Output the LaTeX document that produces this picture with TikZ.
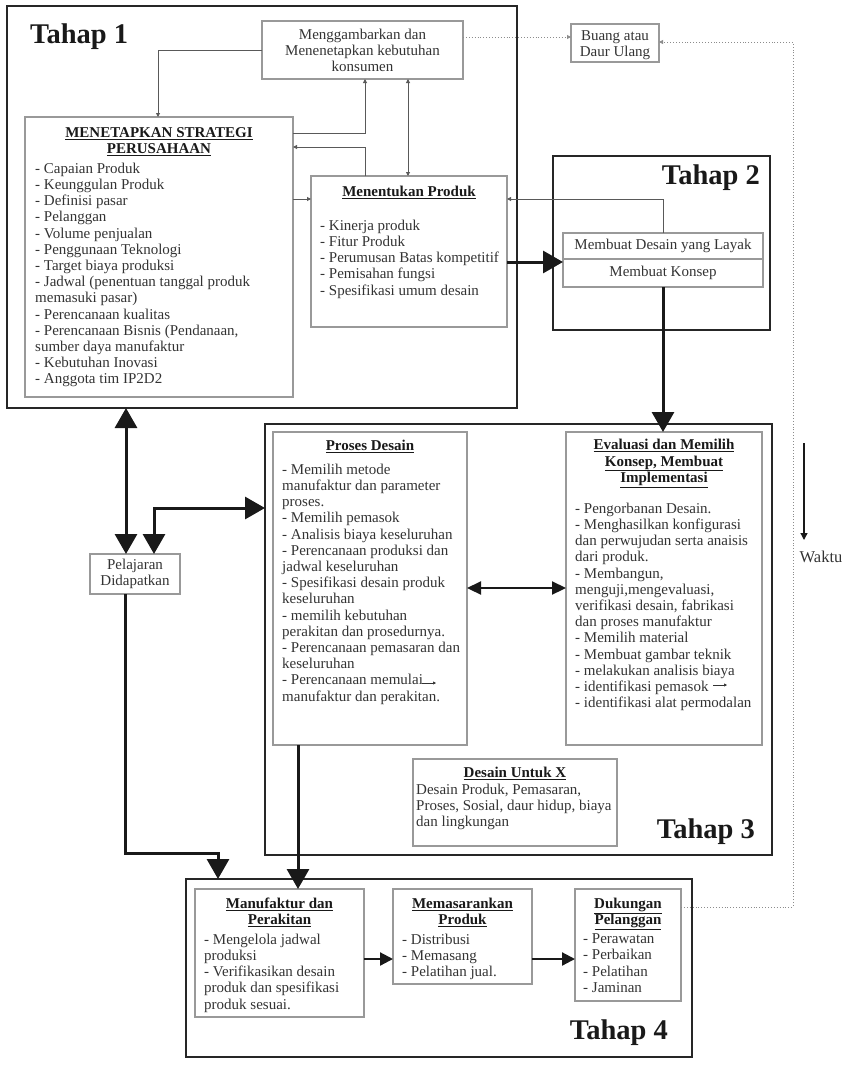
\documentclass[tikz,border=0pt]{standalone}
\usepackage{fontspec}
\setmainfont{Liberation Serif}
\usetikzlibrary{arrows.meta,calc}
\begin{document}
\begin{tikzpicture}[x=1pt,y=-1pt,
  stage/.style={draw=black!85, line width=2.6pt, inner sep=0pt, outer sep=0pt, anchor=north west},
  box/.style={draw=black!40, line width=1.1pt, inner sep=0pt, outer sep=0pt, anchor=north west,
    font=\fontsize{15}{16.2}\selectfont, text=black!80, align=center},
  txt/.style={font=\fontsize{15}{16.2}\selectfont, text=black!80, inner sep=0pt, align=left,
    anchor=north west, execute at begin node=\strut},
  ctr/.style={txt, align=center, anchor=north},
  ttl/.style={txt, font=\fontsize{15}{16.2}\selectfont\bfseries, text=black!90, align=center, anchor=north},
  stg/.style={font=\fontsize{28.5}{30}\selectfont\bfseries, text=black!90, inner sep=0pt},
  thn/.style={line width=0.9pt, draw=black!65, -{Triangle[length=4pt,width=4pt]}},
  thnd/.style={line width=0.9pt, draw=black!65, {Triangle[length=4pt,width=4pt]}-{Triangle[length=4pt,width=4pt]}},
  dotln/.style={line width=0.9pt, draw=black!45, dotted},
  thk/.style={line width=3pt, draw=black!90, -{Triangle[length=20pt,width=22pt]}},
  thkd/.style={line width=3pt, draw=black!90, {Triangle[length=20pt,width=22pt]}-{Triangle[length=20pt,width=22pt]}},
  med/.style={line width=2.2pt, draw=black!90, -{Triangle[length=13pt,width=13pt]}},
  medd/.style={line width=2.2pt, draw=black!90, {Triangle[length=14pt,width=13pt]}-{Triangle[length=14pt,width=13pt]}},
  wak/.style={line width=1.3pt, draw=black!90, -{Triangle[length=7pt,width=7pt]}},
  tiny/.style={line width=0.7pt, draw=black!80, -{Triangle[length=3pt,width=3pt]}}
]
\useasboundingbox (0,0) rectangle (854,1068);

% ---- stage frames
\node[stage, minimum width=510pt, minimum height=402pt] (t1) at (7,6) {};
\node[stage, minimum width=217pt, minimum height=174pt] (t2) at (553,156) {};
\node[stage, minimum width=507pt, minimum height=431pt] (t3) at (265,424) {};
\node[stage, minimum width=506pt, minimum height=178pt] (t4) at (186,879) {};

\node[stg, anchor=base west] (l1) at (30,43) {Tahap 1};
\node[stg, anchor=base east] (l2) at (760,184) {Tahap 2};
\node[stg, anchor=base east] (l3) at (755,838) {Tahap 3};
\node[stg, anchor=base east] (l4) at (668,1039) {Tahap 4};

% ---- boxes
\node[box, minimum width=201pt, minimum height=58pt] (mg) at (262,21) {};
\node[box, minimum width=268pt, minimum height=280pt] (st) at (25,117) {};
\node[box, minimum width=196pt, minimum height=151pt] (mp) at (311,176) {};
\node[box, minimum width=88pt, minimum height=38pt] (bu) at (571,24) {};
\node[box, minimum width=200pt, minimum height=26pt] (ly) at (563,233) {Membuat Desain yang Layak};
\node[box, minimum width=200pt, minimum height=28pt] (ko) at (563,259) {Membuat Konsep};
\node[box, minimum width=194pt, minimum height=313pt] (pd) at (273,432) {};
\node[box, minimum width=196pt, minimum height=313pt] (ev) at (566,432) {};
\node[box, minimum width=204pt, minimum height=87pt] (dx) at (413,759) {};
\node[box, minimum width=90pt, minimum height=40pt] (pl) at (90,554) {Pelajaran\\Didapatkan};
\node[box, minimum width=169pt, minimum height=128pt] (mf) at (195,889) {};
\node[box, minimum width=139pt, minimum height=95pt] (mm) at (393,889) {};
\node[box, minimum width=106pt, minimum height=112pt] (dk) at (575,889) {};

% ---- texts
\node[ctr] (mgt) at (362.5,28.5) {Menggambarkan dan\\Menenetapkan kebutuhan\\konsumen};
\node[ctr] (but) at (615,30.5) {Buang atau\\Daur Ulang};

\node[ttl] (stt) at (159,127.2) {\underline{MENETAPKAN STRATEGI}\\\underline{PERUSAHAAN}};
\node[txt] (stl) at (35,162.7) {- Capaian Produk\\- Keunggulan Produk\\- Definisi pasar\\- Pelanggan\\- Volume penjualan\\- Penggunaan Teknologi\\- Target biaya produksi\\- Jadwal (penentuan tanggal produk\\memasuki pasar)\\- Perencanaan kualitas\\- Perencanaan Bisnis (Pendanaan,\\sumber daya manufaktur\\- Kebutuhan Inovasi\\- Anggota tim IP2D2};

\node[ttl] (mpt) at (409,184.7) {\underline{Menentukan Produk}};
\node[txt] (mpl) at (320,219.7) {- Kinerja produk\\- Fitur Produk\\- Perumusan Batas kompetitif\\- Pemisahan fungsi\\- Spesifikasi umum desain};

\node[ttl] (pdt) at (370,438.7) {\underline{Proses Desain}};
\node[txt] (pdl) at (282,463.7) {- Memilih metode\\manufaktur dan parameter\\proses.\\- Memilih pemasok\\- Analisis biaya keseluruhan\\- Perencanaan produksi dan\\jadwal keseluruhan\\- Spesifikasi desain produk\\keseluruhan\\- memilih kebutuhan\\perakitan dan prosedurnya.\\- Perencanaan pemasaran dan\\keseluruhan\\- Perencanaan memulai\\manufaktur dan perakitan.};

\node[ttl] (evt) at (664,439.2) {\underline{Evaluasi dan Memilih}\\\underline{Konsep, Membuat}\\\underline{Implementasi}};
\node[txt] (evl) at (575,502.7) {- Pengorbanan Desain.\\- Menghasilkan konfigurasi\\dan perwujudan serta anaisis\\dari produk.\\- Membangun,\\menguji,mengevaluasi,\\verifikasi desain, fabrikasi\\dan proses manufaktur\\- Memilih material\\- Membuat gambar teknik\\- melakukan analisis biaya\\- identifikasi pemasok\\- identifikasi alat permodalan};

\node[ttl] (dxt) at (515,766.2) {\underline{Desain Untuk X}};
\node[txt] (dxl) at (416,783.7) {Desain Produk, Pemasaran,\\Proses, Sosial, daur hidup, biaya\\dan lingkungan};

\node[ttl] (mft) at (279.5,897.7) {\underline{Manufaktur dan}\\\underline{Perakitan}};
\node[txt] (mfl) at (204,933.7) {- Mengelola jadwal\\produksi\\- Verifikasikan desain\\produk dan spesifikasi\\produk sesuai.};
\node[ttl] (mmt) at (462.5,897.7) {\underline{Memasarankan}\\\underline{Produk}};
\node[txt] (mml) at (402,933.7) {- Distribusi\\- Memasang\\- Pelatihan jual.};
\node[ttl] (dkt) at (628,897.7) {\underline{Dukungan}\\\underline{Pelanggan}};
\node[txt] (dkl) at (583,933.7) {- Perawatan\\- Perbaikan\\- Pelatihan\\- Jaminan};

\node[txt, anchor=center, font=\fontsize{16.5}{18}\selectfont] (wk) at (821,559) {Waktu};
\coordinate (w0) at (804,443);
\coordinate (w1) at (804,540);

% ---- connectors, Tahap 1
\draw[thn] (mg.west) -| ($(st.north west)+(133,0)$);
\draw[thn] ($(st.north east)+(0,16)$) -| ($(mg.south west)+(103,0)$);
\draw[thn] ($(mp.north west)+(54,0)$) |- ($(st.north east)+(0,30)$);
\draw[thnd] ($(mg.south west)+(146,0)$) -- ($(mp.north west)+(97,0)$);
\draw[thn] ($(st.north east)+(0,82)$) -- ($(mp.north west)+(0,23)$);
\draw[thn] (ly.north) |- ($(mp.north east)+(0,23)$);

% ---- dotted recycling loop
\draw[dotln, -{Triangle[length=4pt,width=4pt]}] ($(mg.north east)+(0,16)$) -- ($(bu.north west)+(0,13)$);
\draw[dotln, -{Triangle[length=4pt,width=4pt]}] ($(dk.north east)+(0,18)$) -| ($(bu.north east)+(134,18)$) -- ($(bu.north east)+(0,18)$);

% ---- thick flow
\draw[thk] ($(mp.north east)+(0,86)$) -- ($(ko.north west)+(0,3)$);
\draw[thk] (ko.south) -- (ko.south |- ev.north);
\draw[thkd] ($(pl.north west)+(36,0)$) -- ($(t1.south west)+(119,0)$);
\draw[thkd] ($(pl.north west)+(64,0)$) |- ($(t3.north west)+(0,84)$);
\draw[thk] ($(pl.south west)+(35,0)$) |- ($(t4.north west)+(32,-26)$) -- ($(t4.north west)+(32,0)$);
\draw[thk] ($(pd.south west)+(25,0)$) -- ($(mf.north west)+(103,0)$);
\draw[medd] ($(pd.north east)+(0,156)$) -- ($(ev.north west)+(0,156)$);
\draw[med] ($(mf.north east)+(0,70)$) -- ($(mm.north west)+(0,70)$);
\draw[med] ($(mm.north east)+(0,70)$) -- ($(dk.north west)+(0,70)$);
\draw[wak] (w0) -- (w1);

% ---- small stray arrows in text
\coordinate (s1) at (422,683);
\coordinate (s2) at (713,685);
\draw[tiny] (s1) -- ++(14,0);
\draw[tiny] (s2) -- ++(14,0);
\end{tikzpicture}
\end{document}
